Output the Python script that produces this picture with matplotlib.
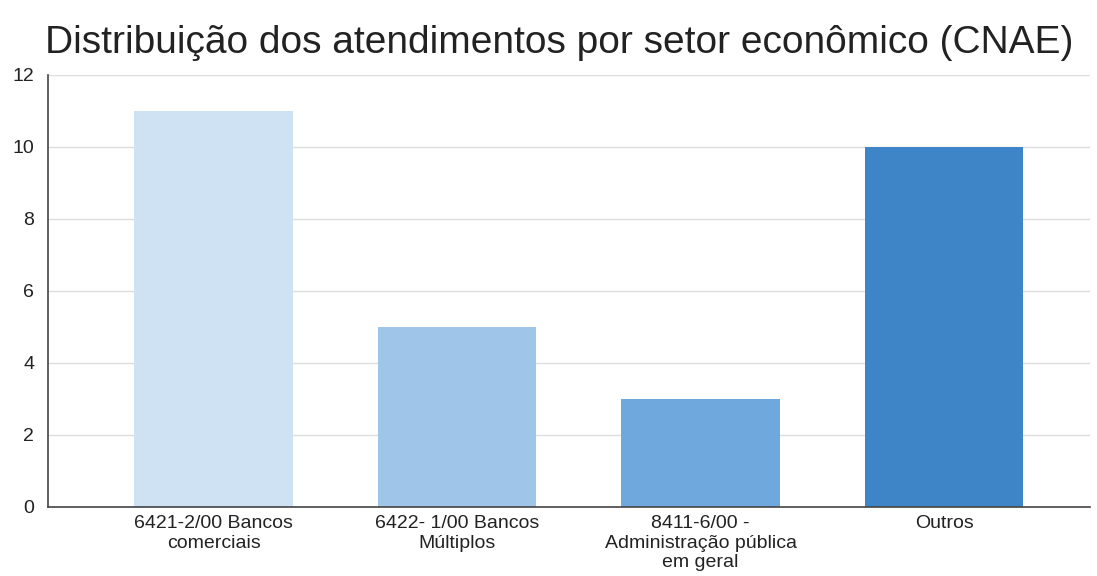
import matplotlib
matplotlib.use("Agg")
import matplotlib.pyplot as plt

plt.rcParams['font.family'] = ['Liberation Sans', 'DejaVu Sans']

categories = ["6421-2/00 Bancos\ncomerciais", "6422- 1/00 Bancos\nMúltiplos",
              "8411-6/00 -\nAdministração pública\nem geral", "Outros"]
values = [11, 5, 3, 10]
colors = ['#cfe2f3', '#9fc5e8', '#6fa8dc', '#3d85c6']
yticks = [0, 2, 4, 6, 8, 10, 12]

fig = plt.figure(figsize=(10.97, 5.76), dpi=100)
ax = fig.add_axes([0.0438, 0.12, 0.95, 0.75])

x = range(len(categories))
ax.bar(x, values, width=0.65, color=colors, zorder=2)

ax.set_xlim(-0.68, 3.6)
ax.set_ylim(0, 12)
ax.set_yticks(yticks)
ax.set_xticks(list(x))
ax.set_xticklabels(categories, fontsize=14, color='#222222', linespacing=1.2)
ax.tick_params(axis='y', labelsize=14, labelcolor='#222222', length=0, pad=10)
ax.tick_params(axis='x', length=0, pad=6)
ax.grid(axis='y', color='#dddddd', linewidth=1, zorder=0)

for s in ['top', 'right']:
    ax.spines[s].set_visible(False)
ax.spines['left'].set_color('#444444')
ax.spines['bottom'].set_color('#444444')
ax.spines['left'].set_linewidth(1.2)
ax.spines['bottom'].set_linewidth(1.2)

fig.text(0.51, 0.925, "Distribuição dos atendimentos por setor econômico (CNAE)",
         ha='center', va='center', fontsize=28, color='#222222')

fig.savefig("out.png", dpi=100)
